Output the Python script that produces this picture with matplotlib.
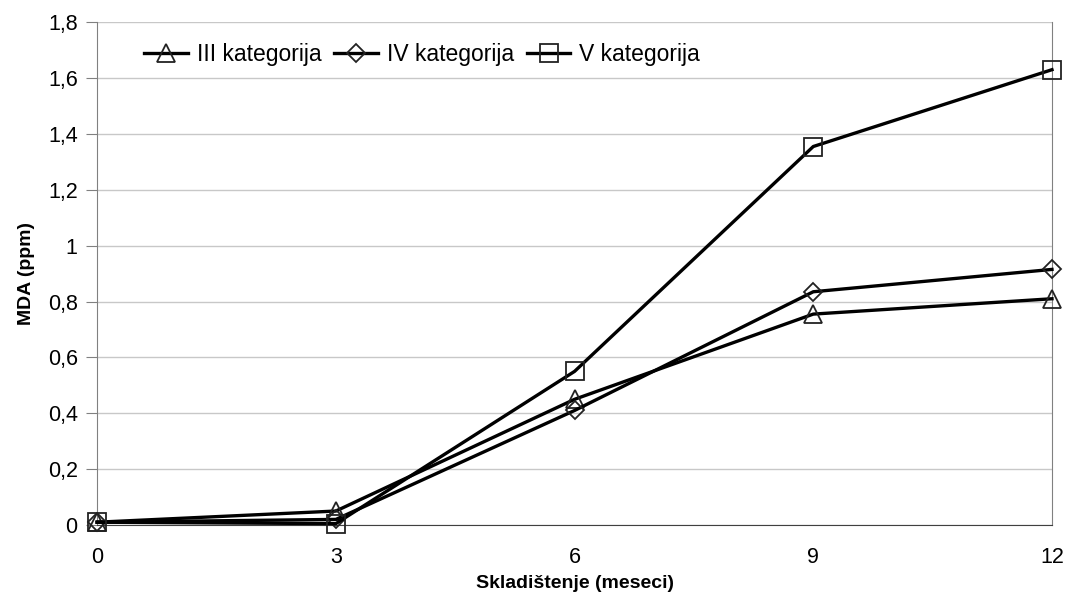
import matplotlib
matplotlib.use("Agg")
import matplotlib.pyplot as plt
from matplotlib.ticker import FuncFormatter

months = [0, 3, 6, 9, 12]
cat_iii = [0.01, 0.05, 0.45, 0.755, 0.81]
cat_iv = [0.01, 0.02, 0.41, 0.835, 0.915]
cat_v = [0.01, 0.005, 0.55, 1.355, 1.63]
labels = ["III kategorija", "IV kategorija", "V kategorija"]

plt.rcParams['font.family'] = ['Liberation Sans', 'DejaVu Sans']

fig = plt.figure(figsize=(10.68, 6), dpi=100)
ax = fig.add_axes([0.091, 0.125, 0.894, 0.838])

for data, m, lab, ms in zip([cat_iii, cat_iv, cat_v], ['^', 'D', 's'], labels, [13, 9.5, 12.5]):
    ax.plot(months, data, color='black', lw=2.4, marker=m, markersize=ms,
            markerfacecolor='none', markeredgecolor='#222222', markeredgewidth=1.3,
            label=lab, clip_on=False, zorder=3)

ax.set_xlim(0, 12)
ax.set_ylim(0, 1.8)
ax.set_xticks(months)
ax.set_yticks([0, 0.2, 0.4, 0.6, 0.8, 1.0, 1.2, 1.4, 1.6, 1.8])
ax.yaxis.set_major_formatter(FuncFormatter(lambda v, p: ('%g' % round(v, 1)).replace('.', ',')))
ax.grid(axis='y', color='#c8c8c8', lw=1)
ax.set_axisbelow(True)
ax.spines['top'].set_visible(False)
ax.spines['left'].set_color('#808080')
ax.spines['right'].set_color('#808080')
ax.spines['bottom'].set_color('#404040')
ax.tick_params(axis='y', direction='out', length=8, color='#808080', labelsize=15.5, pad=6)
ax.tick_params(axis='x', direction='out', length=0, labelsize=15.5, pad=16)

ax.set_xlabel('Skladištenje (meseci)', fontsize=14, fontweight='bold', labelpad=5)
ax.set_ylabel('MDA (ppm)', fontsize=14, fontweight='bold', labelpad=9)

ax.legend(loc='upper left', ncol=3, frameon=False, fontsize=16.5, bbox_to_anchor=(0.035, 0.985),
          handlelength=1.9, handletextpad=0.4, columnspacing=0.55, borderaxespad=0.2)

fig.savefig('out.png', dpi=100)
